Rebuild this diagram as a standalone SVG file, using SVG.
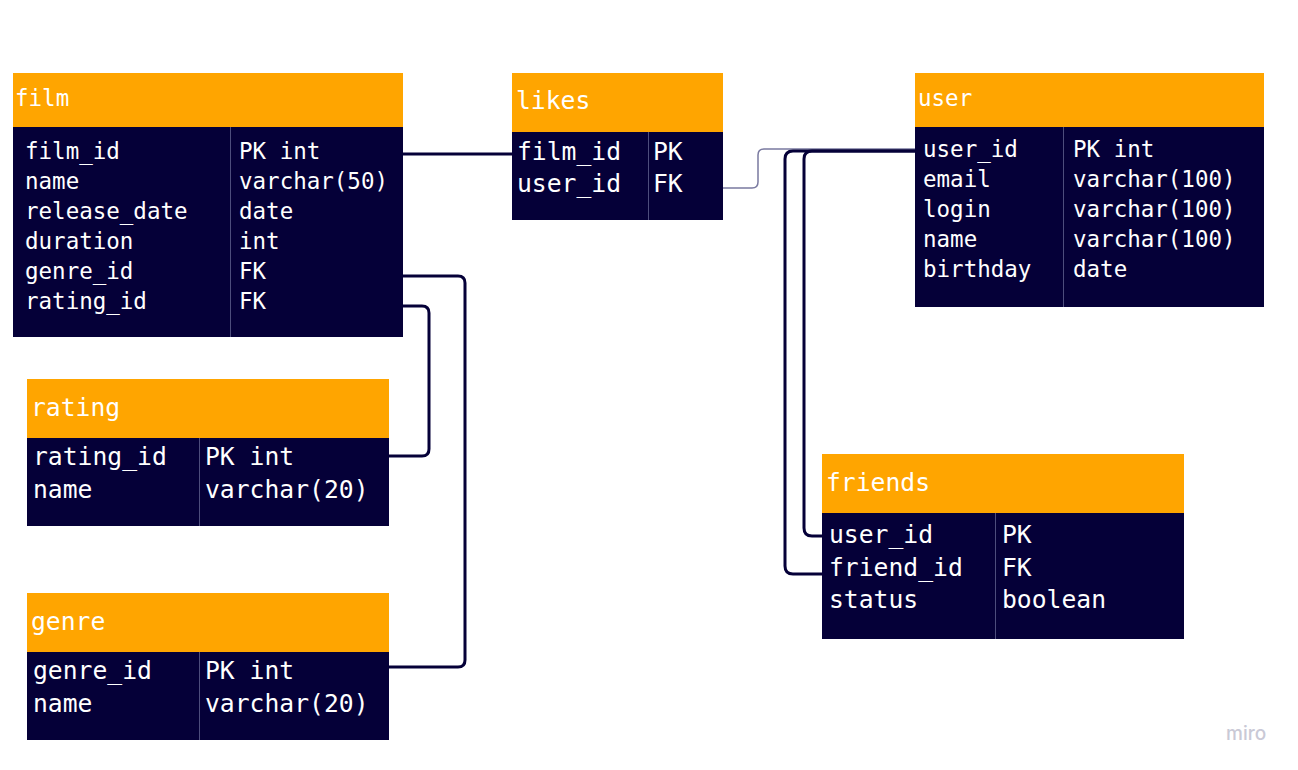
<svg xmlns="http://www.w3.org/2000/svg" width="1298" height="770" viewBox="0 0 1298 770">
  <style>
    .hdr { fill: #FFA500; }
    .body { fill: #050038; }
    .div { stroke: #4d4d7c; stroke-width: 1; }
    .t { font-family: "DejaVu Sans Mono", "Liberation Mono", monospace; fill: #ffffff; }
    .s22 { font-size: 22.5px; }
    .s24 { font-size: 24.7px; }
    .link { fill: none; stroke: #050038; stroke-width: 3; }
    .thin { fill: none; stroke: #7a7aa0; stroke-width: 1.5; }
  </style>
  <rect width="1298" height="770" fill="#ffffff"/>

  <!-- relationships -->
  <g id="connectors">
    <path class="link" d="M403,154 H512"/>
    <path class="link" d="M403,276 H458 Q465,276 465,283 V660 Q465,667 458,667 H389"/>
    <path class="link" d="M403,306 H422 Q429,306 429,313 V449 Q429,456 422,456 H389"/>
    <path class="thin" d="M723,188 H752 Q758,188 758,182 V155 Q758,149 764,149 H915"/>
    <path class="link" d="M915,151 H812 Q804,151 804,159 V528 Q804,536 812,536 H822"/>
    <path class="link" d="M915,151 H793 Q785,151 785,159 V566 Q785,574 793,574 H822"/>
  </g>

  <!-- film -->
  <g id="film">
    <rect class="hdr" x="13" y="73" width="390" height="54"/>
    <rect class="body" x="13" y="127" width="390" height="210"/>
    <line class="div" x1="230.500" y1="127" x2="230.500" y2="337"/>
    <text class="t s22" x="15" y="106">film</text>
    <g class="t s22">
      <text x="25" y="159">film_id</text>
      <text x="25" y="189">name</text>
      <text x="25" y="219">release_date</text>
      <text x="25" y="249">duration</text>
      <text x="25" y="279">genre_id</text>
      <text x="25" y="309">rating_id</text>
      <text x="239" y="159">PK int</text>
      <text x="239" y="189">varchar(50)</text>
      <text x="239" y="219">date</text>
      <text x="239" y="249">int</text>
      <text x="239" y="279">FK</text>
      <text x="239" y="309">FK</text>
    </g>
  </g>

  <!-- likes -->
  <g id="likes">
    <rect class="hdr" x="512" y="73" width="211" height="59"/>
    <rect class="body" x="512" y="132" width="211" height="88"/>
    <line class="div" x1="648.500" y1="132" x2="648.500" y2="220"/>
    <text class="t s24" x="516" y="109">likes</text>
    <g class="t s24">
      <text x="517" y="160">film_id</text>
      <text x="517" y="192">user_id</text>
      <text x="653" y="160">PK</text>
      <text x="653" y="192">FK</text>
    </g>
  </g>

  <!-- user -->
  <g id="user">
    <rect class="hdr" x="915" y="73" width="349" height="54"/>
    <rect class="body" x="915" y="127" width="349" height="180"/>
    <line class="div" x1="1063.500" y1="127" x2="1063.500" y2="307"/>
    <text class="t s22" x="918" y="106">user</text>
    <g class="t s22">
      <text x="923" y="157">user_id</text>
      <text x="923" y="187">email</text>
      <text x="923" y="217">login</text>
      <text x="923" y="247">name</text>
      <text x="923" y="277">birthday</text>
      <text x="1073" y="157">PK int</text>
      <text x="1073" y="187">varchar(100)</text>
      <text x="1073" y="217">varchar(100)</text>
      <text x="1073" y="247">varchar(100)</text>
      <text x="1073" y="277">date</text>
    </g>
  </g>

  <!-- friends -->
  <g id="friends">
    <rect class="hdr" x="822" y="454" width="362" height="59"/>
    <rect class="body" x="822" y="513" width="362" height="126"/>
    <line class="div" x1="995.500" y1="513" x2="995.500" y2="639"/>
    <text class="t s24" x="826" y="491">friends</text>
    <g class="t s24">
      <text x="829" y="543">user_id</text>
      <text x="829" y="576">friend_id</text>
      <text x="829" y="608">status</text>
      <text x="1002" y="543">PK</text>
      <text x="1002" y="576">FK</text>
      <text x="1002" y="608">boolean</text>
    </g>
  </g>

  <!-- rating -->
  <g id="rating">
    <rect class="hdr" x="27" y="379" width="362" height="59"/>
    <rect class="body" x="27" y="438" width="362" height="88"/>
    <line class="div" x1="199.500" y1="438" x2="199.500" y2="526"/>
    <text class="t s24" x="31" y="416">rating</text>
    <g class="t s24">
      <text x="33" y="465">rating_id</text>
      <text x="33" y="498">name</text>
      <text x="205" y="465">PK int</text>
      <text x="205" y="498">varchar(20)</text>
    </g>
  </g>

  <!-- genre -->
  <g id="genre">
    <rect class="hdr" x="27" y="593" width="362" height="59"/>
    <rect class="body" x="27" y="652" width="362" height="88"/>
    <line class="div" x1="199.500" y1="652" x2="199.500" y2="740"/>
    <text class="t s24" x="31" y="630">genre</text>
    <g class="t s24">
      <text x="33" y="679">genre_id</text>
      <text x="33" y="712">name</text>
      <text x="205" y="679">PK int</text>
      <text x="205" y="712">varchar(20)</text>
    </g>
  </g>

  <text x="1226" y="740" font-family="Inter, 'Noto Sans', sans-serif" font-size="19" font-weight="500" fill="#c9c9d6">miro</text>
</svg>
